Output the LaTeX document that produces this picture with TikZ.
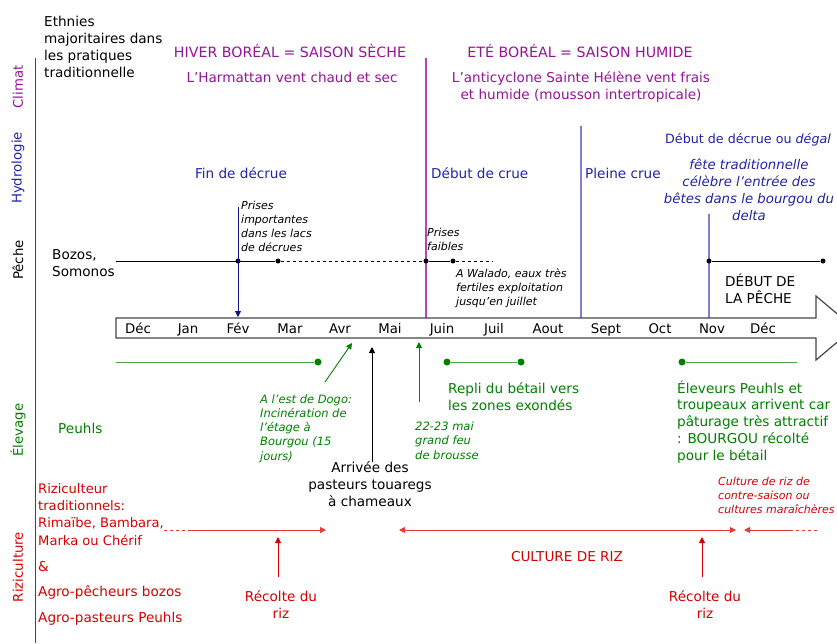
\documentclass[tikz,border=0pt]{standalone}
\usepackage{fontspec}
\setmainfont{DejaVu Sans}
\usetikzlibrary{arrows.meta}

\definecolor{clim}{RGB}{150,20,150}
\definecolor{climline}{RGB}{178,70,178}
\definecolor{hydro}{RGB}{35,35,165}
\definecolor{hydroline}{RGB}{125,125,210}
\definecolor{navy}{RGB}{20,20,130}
\definecolor{elev}{RGB}{0,128,0}
\definecolor{elevline}{RGB}{70,165,70}
\definecolor{rizi}{RGB}{215,0,0}
\definecolor{riziline}{RGB}{225,60,60}
\definecolor{axe}{RGB}{70,70,70}

% multi-line nodes are placed by the baseline of their last line
\tikzset{
  txt/.style={inner sep=0pt, font=\fontsize{13.6}{16.7}\selectfont, anchor=base west, align=left},
  txtc/.style={txt, anchor=base, align=center},
  head/.style={txtc, font=\fontsize{14.2}{17}\selectfont},
  note/.style={inner sep=0pt, font=\fontsize{11}{14}\selectfont\itshape, anchor=base west, align=left},
  rowlabel/.style={inner sep=0pt, rotate=90, font=\fontsize{13.3}{16}\selectfont},
  month/.style={inner sep=0pt, anchor=base, font=\fontsize{13.3}{16}\selectfont},
  bdot/.style={circle, fill=black, inner sep=0pt, minimum size=5pt},
  gdot/.style={circle, fill=elev, inner sep=0pt, minimum size=7pt},
  tip/.style={-{Triangle[length=6pt,width=6pt]}},
  tipboth/.style={{Triangle[length=6pt,width=6pt]}-{Triangle[length=6pt,width=6pt]}},
}

\begin{document}
\begin{tikzpicture}[x=1pt,y=-1pt]
\useasboundingbox (0,0) rectangle (837,643);
\fill[white] (0,0) rectangle (837,643);

% ---- left axis and row titles
\coordinate (axTop) at (35,58);
\coordinate (axBot) at (35,643);
\draw[axe, line width=1pt] (axTop) -- (axBot);
\node[rowlabel, text=clim]  (lClimat) at (18,87)  {Climat};
\node[rowlabel, text=hydro] (lHydro)  at (18,168) {Hydrologie};
\node[rowlabel, text=black] (lPeche)  at (18,260) {Pêche};
\node[rowlabel, text=elev]  (lElev)   at (18,430) {Élevage};
\node[rowlabel, text=rizi]  (lRiz)    at (18,567) {Riziculture};

\node[txt] (ethnies) at (44,77) {Ethnies\\majoritaires dans\\les pratiques\\traditionnelle};

% ---- climate
\node[head, text=clim] (hiver) at (290,57) {HIVER BORÉAL = SAISON SÈCHE};
\node[txtc, text=clim] (harm)  at (292,82) {L’Harmattan vent chaud et sec};
\node[head, text=clim] (ete)   at (580,57) {ETÉ BORÉAL = SAISON HUMIDE};
\node[txtc, text=clim] (anti)  at (581,99) {L’anticyclone Sainte Hélène vent frais\\et humide (mousson intertropicale)};

% ---- season / flood separators
\coordinate (sepA1) at (426,58);  \coordinate (sepA2) at (426,318);
\coordinate (sepB1) at (581,126); \coordinate (sepB2) at (581,318);
\coordinate (sepC1) at (709,214); \coordinate (sepC2) at (709,318);
\draw[climline, line width=1.3pt] (sepA1) -- (sepA2);
\draw[hydroline, line width=1.3pt] (sepB1) -- (sepB2);
\draw[hydroline, line width=1.3pt] (sepC1) -- (sepC2);

% ---- hydrology
\node[txtc, text=hydro] (fin)   at (241,178) {Fin de décrue};
\node[txt, text=hydro]  (crue)  at (431,178) {Début de crue};
\node[txt, text=hydro]  (plein) at (585,178) {Pleine crue};
\node[txt, text=hydro, font=\fontsize{12.7}{16}\selectfont] (degal) at (665,143) {Début de décrue ou \textit{dégal}};
\node[txtc, text=hydro, font=\fontsize{13.3}{16.7}\selectfont\itshape] (fete) at (749,220)
  {fête traditionnelle\\célèbre l’entrée des\\bêtes dans le bourgou du\\delta};

% ---- fishing
\node[txt] (bozos) at (52,276) {Bozos,\\Somonos};
\coordinate (p0) at (116,261);
\node[bdot] (p1) at (238,261) {};
\node[bdot] (p2) at (278,261) {};
\node[bdot] (p3) at (426,261) {};
\node[bdot] (p4) at (453,261) {};
\coordinate (p5) at (493,261);
\node[bdot] (p6) at (709,261) {};
\node[bdot] (p7) at (823,261) {};
\draw[black, line width=0.9pt] (p0) -- (p2);
\draw[black, line width=0.9pt, dash pattern=on 3pt off 3pt] (p2) -- (p3);
\draw[black, line width=0.9pt] (p3) -- (p4);
\draw[black, line width=0.9pt, dash pattern=on 3pt off 3pt] (p4) -- (p5);
\draw[black, line width=0.9pt] (p6) -- (p7);

\coordinate (fevTop) at (238,207);
\coordinate (fevBot) at (238,317);
\draw[navy, line width=0.9pt, tip] (fevTop) -- (fevBot);

\node[note] (prisesA) at (241,251) {Prises\\importantes\\dans les lacs\\de décrues};
\node[note] (prisesB) at (427,250) {Prises\\faibles};
\node[note] (walado)  at (456,305) {A Walado, eaux très\\fertiles exploitation\\jusqu’en juillet};
\node[txt] (debpeche) at (725,303) {DÉBUT DE\\LA PÊCHE};

% ---- calendar arrow
\draw[axe, line width=1.2pt, fill=white]
  (116,318) -- (816,318) -- (816,296) -- (854,328) -- (816,360) -- (816,338) -- (116,338) -- cycle;
\node[month] (m1)  at (138,333) {Déc};
\node[month] (m2)  at (188,333) {Jan};
\node[month] (m3)  at (238,333) {Fév};
\node[month] (m4)  at (290,333) {Mar};
\node[month] (m5)  at (340,333) {Avr};
\node[month] (m6)  at (390,333) {Mai};
\node[month] (m7)  at (442,333) {Juin};
\node[month] (m8)  at (494,333) {Juil};
\node[month] (m9)  at (548,333) {Aout};
\node[month] (m10) at (606,333) {Sept};
\node[month] (m11) at (660,333) {Oct};
\node[month] (m12) at (712,333) {Nov};
\node[month] (m13) at (763,333) {Déc};

% ---- livestock
\node[txt, text=elev] (peuhls) at (58,433) {Peuhls};
\coordinate (g0) at (116,362);
\node[gdot] (g1) at (318,362) {};
\node[gdot] (g2) at (447,362) {};
\node[gdot] (g3) at (521,362) {};
\node[gdot] (g4) at (682,362) {};
\coordinate (g5) at (797,362);
\draw[elevline, line width=1pt] (g0) -- (g1);
\draw[elevline, line width=1pt] (g2) -- (g3);
\draw[elevline, line width=1pt] (g4) -- (g5);

\coordinate (dogoA) at (325,382); \coordinate (dogoB) at (352,343);
\draw[elev, line width=0.9pt, tip] (dogoA) -- (dogoB);
\node[note, text=elev, font=\fontsize{11.5}{14.2}\selectfont\itshape] (dogo) at (260,460)
  {A l’est de Dogo:\\Incinération de\\l’étage à\\Bourgou (15\\jours)};

\coordinate (feuA) at (419,402); \coordinate (feuB) at (419,342);
\draw[elev, line width=0.9pt, tip] (feuA) -- (feuB);
\node[note, text=elev, font=\fontsize{11.5}{14.5}\selectfont\itshape] (feu) at (415,459)
  {22-23 mai\\grand feu\\de brousse};

\coordinate (touA) at (372,462); \coordinate (touB) at (372,347);
\draw[black, line width=0.9pt, tip] (touA) -- (touB);
\node[txtc] (touareg) at (370,506) {Arrivée des\\pasteurs touaregs\\à chameaux};

\node[txt, text=elev] (repli) at (448,410) {Repli du bétail vers\\les zones exondés};
\node[txt, text=elev] (eleveurs) at (677,460)
  {Éleveurs Peuhls et\\troupeaux arrivent car\\pâturage très attractif\\: BOURGOU récolté\\pour le bétail};

% ---- rice growing
\node[txt, text=rizi, font=\fontsize{13.1}{17.3}\selectfont] (rizic) at (38,545)
  {Riziculteur\\traditionnels:\\Rimaïbe, Bambara,\\Marka ou Chérif};
\node[txt, text=rizi] (amp)    at (38,571) {\&};
\node[txt, text=rizi] (agroP)  at (38,596) {Agro-pêcheurs bozos};
\node[txt, text=rizi] (agroPa) at (38,622) {Agro-pasteurs Peuhls};

\coordinate (r0) at (164,530); \coordinate (r1) at (190,530); \coordinate (r2) at (326,530);
\draw[riziline, line width=1pt, dash pattern=on 3pt off 3pt] (r0) -- (r1);
\draw[riziline, line width=1pt, tip] (r1) -- (r2);
\coordinate (r3) at (399,530); \coordinate (r4) at (736,530);
\draw[riziline, line width=1pt, tipboth] (r3) -- (r4);
\coordinate (r5) at (790,530); \coordinate (r6) at (744,530); \coordinate (r7) at (818,530);
\draw[riziline, line width=1pt, tip] (r5) -- (r6);
\draw[riziline, line width=1pt, dash pattern=on 3pt off 3pt] (r5) -- (r7);

\coordinate (hA1) at (278,577); \coordinate (hA2) at (278,537);
\draw[rizi, line width=0.9pt, tip] (hA1) -- (hA2);
\coordinate (hB1) at (702,577); \coordinate (hB2) at (702,537);
\draw[rizi, line width=0.9pt, tip] (hB1) -- (hB2);

\node[txtc, text=rizi] (recA) at (281,618) {Récolte du\\riz};
\node[txtc, text=rizi] (recB) at (705,618) {Récolte du\\riz};
\node[txtc, text=rizi] (culture) at (567,561) {CULTURE DE RIZ};
\node[note, text=rizi] (contre) at (718,513) {Culture de riz de\\contre-saison ou\\cultures maraîchères};

\end{tikzpicture}
\end{document}
